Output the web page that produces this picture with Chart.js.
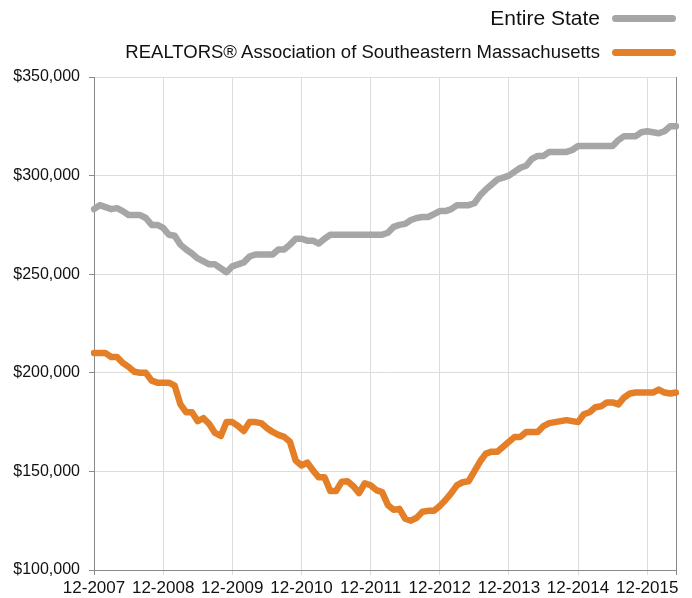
<!DOCTYPE html>
<html>
<head>
<meta charset="utf-8">
<script src="https://cdn.jsdelivr.net/npm/chart.js@4"></script>
<style>
  body { margin: 0; background: #fff; font-family: "Liberation Sans", Arial, sans-serif; }
  #wrap { position: relative; width: 692px; height: 598px; }
  .leg { position: absolute; right: 92px; color: #111; white-space: nowrap; }
  .sw { position: absolute; left: 612px; width: 64px; height: 7px; border-radius: 4px; }
</style>
</head>
<body>
<div id="wrap">
  <canvas id="myChart" width="692" height="598"></canvas>
  <div class="leg" style="top:6px;font-size:21px;">Entire State</div>
  <div class="sw" style="top:15px;background:#a6a6a6;"></div>
  <div class="leg" style="top:41px;font-size:18.5px;">REALTORS® Association of Southeastern Massachusetts</div>
  <div class="sw" style="top:49px;background:#e47f27;"></div>
</div>
<script>
// meses 12-2007 .. 5-2016
var months = [];
for (var y = 2007; y <= 2016; y++) {
    for (var m = 1; m <= 12; m++) {
        if (y === 2007 && m < 12) continue;
        if (y === 2016 && m > 5) continue;
        months.push(m + '-' + y);
    }
}

var entireState = [
    283000, 285000, 284000, 283000, 283500, 282000, 280000, 280000, 280000, 278500,
    275000, 275000, 273500, 270000, 269500, 265000, 262500, 260500, 258000, 256500,
    255000, 255000, 253000, 251000, 254000, 255000, 256000, 259000, 260000, 260000,
    260000, 260000, 262500, 262500, 265000, 268000, 268000, 267000, 267000, 265500,
    268000, 270000, 270000, 270000, 270000, 270000, 270000, 270000, 270000, 270000,
    270000, 271000, 274000, 275000, 275500, 277500, 278500, 279000, 279000, 280500,
    282000, 282000, 283000, 285000, 285000, 285000, 286000, 290000, 293000, 295500,
    298000, 299000, 300000, 302000, 304000, 305000, 308500, 310000, 310000, 312000,
    312000, 312000, 312000, 313000, 315000, 315000, 315000, 315000, 315000, 315000,
    315000, 318000, 320000, 320000, 320000, 322000, 322500, 322000, 321500, 322500,
    325000, 325000
];

var southeastern = [
    210000, 210000, 210000, 208000, 208000, 205000, 203000, 200500, 200000, 200000,
    196000, 195000, 195000, 195000, 193500, 184000, 180000, 180000, 175500, 177000,
    174000, 169500, 168000, 175000, 175000, 173000, 170500, 175000, 175000, 174500,
    172000, 170000, 168500, 167500, 165000, 155500, 153000, 154500, 150500, 147000,
    147000, 140000, 140000, 144800, 145000, 142500, 139000, 144000, 143000, 140500,
    139500, 133000, 130500, 131000, 126000, 125000, 126500, 129500, 130000, 130000,
    132500, 135500, 139000, 143000, 144500, 145000, 150000, 155000, 159000, 160000,
    160000, 162500, 165000, 167500, 167500, 170000, 170000, 170000, 173000, 174500,
    175000, 175500, 176000, 175500, 175000, 179000, 180000, 182500, 183000, 185000,
    185000, 184000, 187500, 189500, 190000, 190000, 190000, 190000, 191500, 190000,
    189500, 190000
];

var yTicks = [100000, 150000, 200000, 250000, 300000, 350000];

function gridColor(ctx) {
    var i = ctx.index;
    if (i === months.length - 1) return '#8a8a8a';
    if (i === 0) return '#8a8a8a';
    return months[i].indexOf('12-') === 0 ? '#dcdcdc' : 'rgba(0,0,0,0)';
}

var ctx = document.getElementById('myChart').getContext('2d');
var chart = new Chart(ctx, {
    type: 'line',
    data: {
        labels: months,
        datasets: [{
            label: 'Entire State',
            data: entireState,
            borderColor: '#a6a6a6',
            borderWidth: 6.5,
            pointRadius: 0,
            tension: 0,
            borderJoinStyle: 'round',
            borderCapStyle: 'round'
        }, {
            label: 'REALTORS® Association of Southeastern Massachusetts',
            data: southeastern,
            borderColor: '#e47f27',
            borderWidth: 6.5,
            pointRadius: 0,
            tension: 0,
            borderJoinStyle: 'round',
            borderCapStyle: 'round'
        }]
    },
    options: {
        responsive: false,
        animation: false,
        layout: { padding: { top: 77, right: 16, left: 0, bottom: 0 } },
        plugins: { legend: { display: false }, tooltip: { enabled: false } },
        scales: {
            x: {
                offset: false,
                grid: { color: gridColor, tickColor: gridColor, tickLength: 5, drawOnChartArea: true },
                border: { display: true, color: '#8a8a8a' },
                ticks: {
                    autoSkip: false,
                    maxRotation: 0,
                    padding: 3,
                    color: '#111',
                    font: { family: '"Liberation Sans", Arial, sans-serif', size: 17 },
                    callback: function (v, i) {
                        return months[i].indexOf('12-') === 0 ? months[i] : '';
                    }
                },
                afterFit: function (s) { s.height = 28; }
            },
            y: {
                min: 100000,
                max: 350000,
                afterBuildTicks: function (s) {
                    s.ticks = yTicks.map(function (v) { return { value: v }; });
                },
                grid: { color: '#dcdcdc', tickColor: '#8a8a8a', tickLength: 5 },
                border: { display: true, color: '#8a8a8a' },
                ticks: {
                    padding: 9,
                    color: '#111',
                    font: { family: '"Liberation Sans", Arial, sans-serif', size: 16 },
                    callback: function (v) { return '$' + v.toLocaleString('en-US'); }
                },
                afterFit: function (s) { s.width = 94; }
            }
        }
    }
});
</script>
</body>
</html>
